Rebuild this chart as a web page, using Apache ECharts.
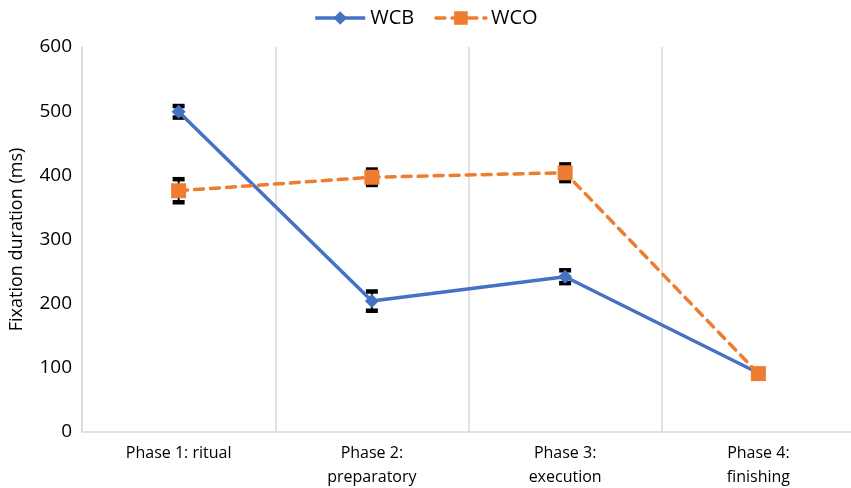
<!DOCTYPE html>
<html><head><meta charset="utf-8">
<script src="https://cdn.jsdelivr.net/npm/echarts@6/dist/echarts.min.js"></script>
<style>html,body{margin:0;padding:0;background:#fff}#c{width:851px;height:488px}</style>
</head><body><div id="c"></div>
<script>
const categories = ['Phase 1: ritual', 'Phase 2:\npreparatory', 'Phase 3:\nexecution', 'Phase 4:\nfinishing'];
const wcbValues = [499, 204, 242, 92];
const wcbErrors = [9, 15, 10, 0];
const wcoValues = [376, 397, 404, 91];
const wcoErrors = [18, 12, 13, 0];
const yTicks = [0, 100, 200, 300, 400, 500, 600];

const FONT = 'Open Sans';
const chart = echarts.init(document.getElementById('c'));

function errSeries(vals, errs, z) {
  const data = vals.map((v, i) => [i, v - errs[i], v + errs[i]]);
  return {
    type: 'custom', z: z, silent: true,
    renderItem: function (params, api) {
      const x = api.value(0);
      if (api.value(2) - api.value(1) <= 0) return null;
      const lo = api.coord([x, api.value(1)]);
      const hi = api.coord([x, api.value(2)]);
      const w = 6;
      return {
        type: 'group', children: [
          { type: 'line', shape: { x1: lo[0], y1: lo[1], x2: hi[0], y2: hi[1] }, style: { stroke: '#000', lineWidth: 2 } },
          { type: 'line', shape: { x1: hi[0] - w, y1: hi[1], x2: hi[0] + w, y2: hi[1] }, style: { stroke: '#000', lineWidth: 4.5 } },
          { type: 'line', shape: { x1: lo[0] - w, y1: lo[1], x2: lo[0] + w, y2: lo[1] }, style: { stroke: '#000', lineWidth: 4.5 } }
        ]
      };
    },
    encode: { x: 0, y: [1, 2] },
    data: data
  };
}

chart.setOption({
  animation: false,
  textStyle: { fontFamily: FONT },
  legend: {
    top: 3, left: 'center', itemWidth: 50, itemHeight: 17, itemGap: 20,
    lineStyle: { width: 3.5 },
    textStyle: { fontFamily: FONT, fontSize: 20, color: '#000' },
    data: ['WCB', 'WCO']
  },
  grid: { left: 82, right: -4, top: 47, bottom: 56, containLabel: false, outerBoundsMode: 'none' },
  xAxis: {
    type: 'category', data: categories, boundaryGap: true,
    axisLine: { show: true, lineStyle: { color: '#d9d9d9', width: 1.5 } },
    axisTick: { show: false },
    splitLine: { show: true, lineStyle: { color: '#d9d9d9', width: 1.5 } },
    axisLabel: { color: '#000', fontSize: 16, fontFamily: FONT, lineHeight: 24, margin: 9, interval: 0 }
  },
  yAxis: {
    type: 'value', min: 0, max: 600, interval: 100,
    name: 'Fixation duration (ms)', nameLocation: 'middle', nameGap: 56,
    nameTextStyle: { color: '#000', fontSize: 18, fontFamily: FONT },
    axisLine: { show: true, lineStyle: { color: '#d9d9d9', width: 1.5 } },
    axisTick: { show: false },
    splitLine: { show: false },
    axisLabel: { color: '#000', fontSize: 19, fontFamily: FONT, margin: 10 }
  },
  series: [
    errSeries(wcbValues, wcbErrors, 1),
    errSeries(wcoValues, wcoErrors, 1),
    {
      name: 'WCB', type: 'line', data: wcbValues, z: 3,
      symbol: 'diamond', symbolSize: 14,
      itemStyle: { color: '#4472C4' },
      lineStyle: { color: '#4472C4', width: 3.5 }
    },
    {
      name: 'WCO', type: 'line', data: wcoValues, z: 4,
      symbol: 'rect', symbolSize: 15,
      itemStyle: { color: '#ED7D31' },
      lineStyle: { color: '#ED7D31', width: 3.5, type: [9, 7], cap: 'round' }
    }
  ]
});
</script></body></html>
